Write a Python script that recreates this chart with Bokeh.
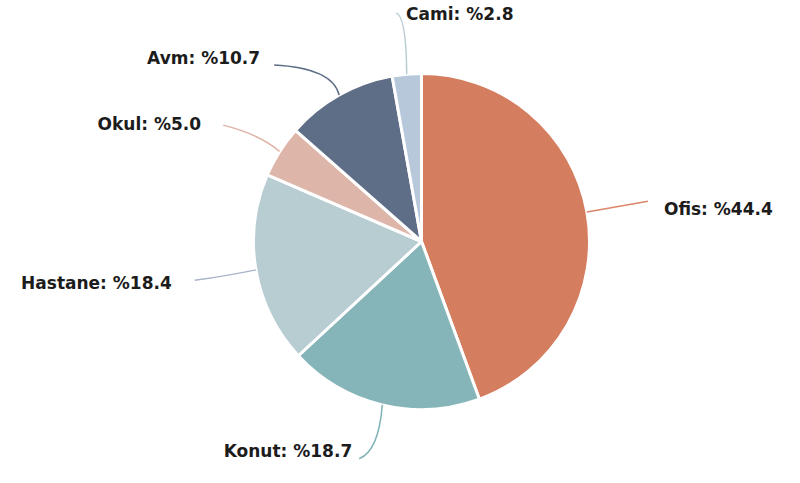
import math
from bokeh.plotting import figure
from bokeh.models import Range1d, ColumnDataSource
from bokeh.core.properties import value
from bokeh.embed import file_html
from bokeh.resources import INLINE

# ---- data ----
categories = ["Ofis", "Konut", "Hastane", "Okul", "Avm", "Cami"]
shares = [44.4, 18.7, 18.4, 5.0, 10.7, 2.8]
colors = ["#D57D5F", "#85B5B8", "#B8CDD2", "#DDB6A9", "#5F6E87", "#B7C8DA"]

# ---- layout / style ----
W, H = 784, 467
CX, CY = 421, 226          # pie centre (data units = pixels)
R = 168
R_END = [230, 226, 230, 230, 230, 230]   # radius of leader-line outer end
angle_tweak = [0, 2.5, 0, -2, -10.5, -1.3]     # degrees
label_dx = [16, -7, -23, -22, -14, 10]
label_dy = [-8, 8, -3, 1, 7, -1]               # bokeh y (up positive)
label_align = ["left", "right", "right", "right", "right", "left"]
line_colors = ["#D9866A", "#7FB3B6", "#A7B4C8", "#DDB2A4", "#5F6E87", "#B9CBD2"]
curve_t = [0.0, 0.7, 0.1, 0.3, 0.8, 0.9]

total = sum(shares)
starts, ends = [], []
cum = 0.0
for s in shares:
    starts.append(math.pi / 2 - 2 * math.pi * cum / total)
    cum += s
    ends.append(math.pi / 2 - 2 * math.pi * cum / total)

p = figure(width=W, height=H, output_backend="svg", toolbar_location=None,
           x_range=Range1d(0, W), y_range=Range1d(0, H),
           min_border=0, outline_line_color=None)
p.axis.visible = False
p.grid.visible = False
p.background_fill_color = "white"
p.border_fill_color = "white"

src = ColumnDataSource(dict(start=starts, end=ends, color=colors))
p.wedge(x=CX, y=CY, radius=R, start_angle="start", end_angle="end",
        direction="clock", fill_color="color", line_color="white",
        line_width=3, source=src)

x0s, y0s, x1s, y1s, cxs, cys = [], [], [], [], [], []
tx, ty, texts = [], [], []
for i, (cat, s) in enumerate(zip(categories, shares)):
    cum_mid = sum(shares[:i]) + s / 2
    a = 2 * math.pi * cum_mid / total          # clockwise from top
    ex, ey = CX + R * math.sin(a), CY + R * math.cos(a)
    a2 = a + math.radians(angle_tweak[i])
    ox, oy = CX + R_END[i] * math.sin(a2), CY + R_END[i] * math.cos(a2)
    mx, my = (ex + ox) / 2, (ey + oy) / 2
    cornx, corny = ex, oy
    t = curve_t[i]
    x0s.append(ex); y0s.append(ey); x1s.append(ox); y1s.append(oy)
    cxs.append(mx + t * (cornx - mx)); cys.append(my + t * (corny - my))
    tx.append(ox + label_dx[i]); ty.append(oy + label_dy[i])
    texts.append(f"{cat}: %{s:.1f}")

p.quadratic(x0=x0s, y0=y0s, x1=x1s, y1=y1s, cx=cxs, cy=cys,
            line_color=line_colors, line_width=1.5)

for i in range(len(categories)):
    p.text(x=[tx[i]], y=[ty[i]], text=[texts[i]], text_align=label_align[i],
           text_baseline="middle", text_font=value("DejaVu Sans"),
           text_font_style="bold", text_font_size="17px", text_color="#1c1c1c")

open("out.html", "w").write(file_html(p, INLINE))
